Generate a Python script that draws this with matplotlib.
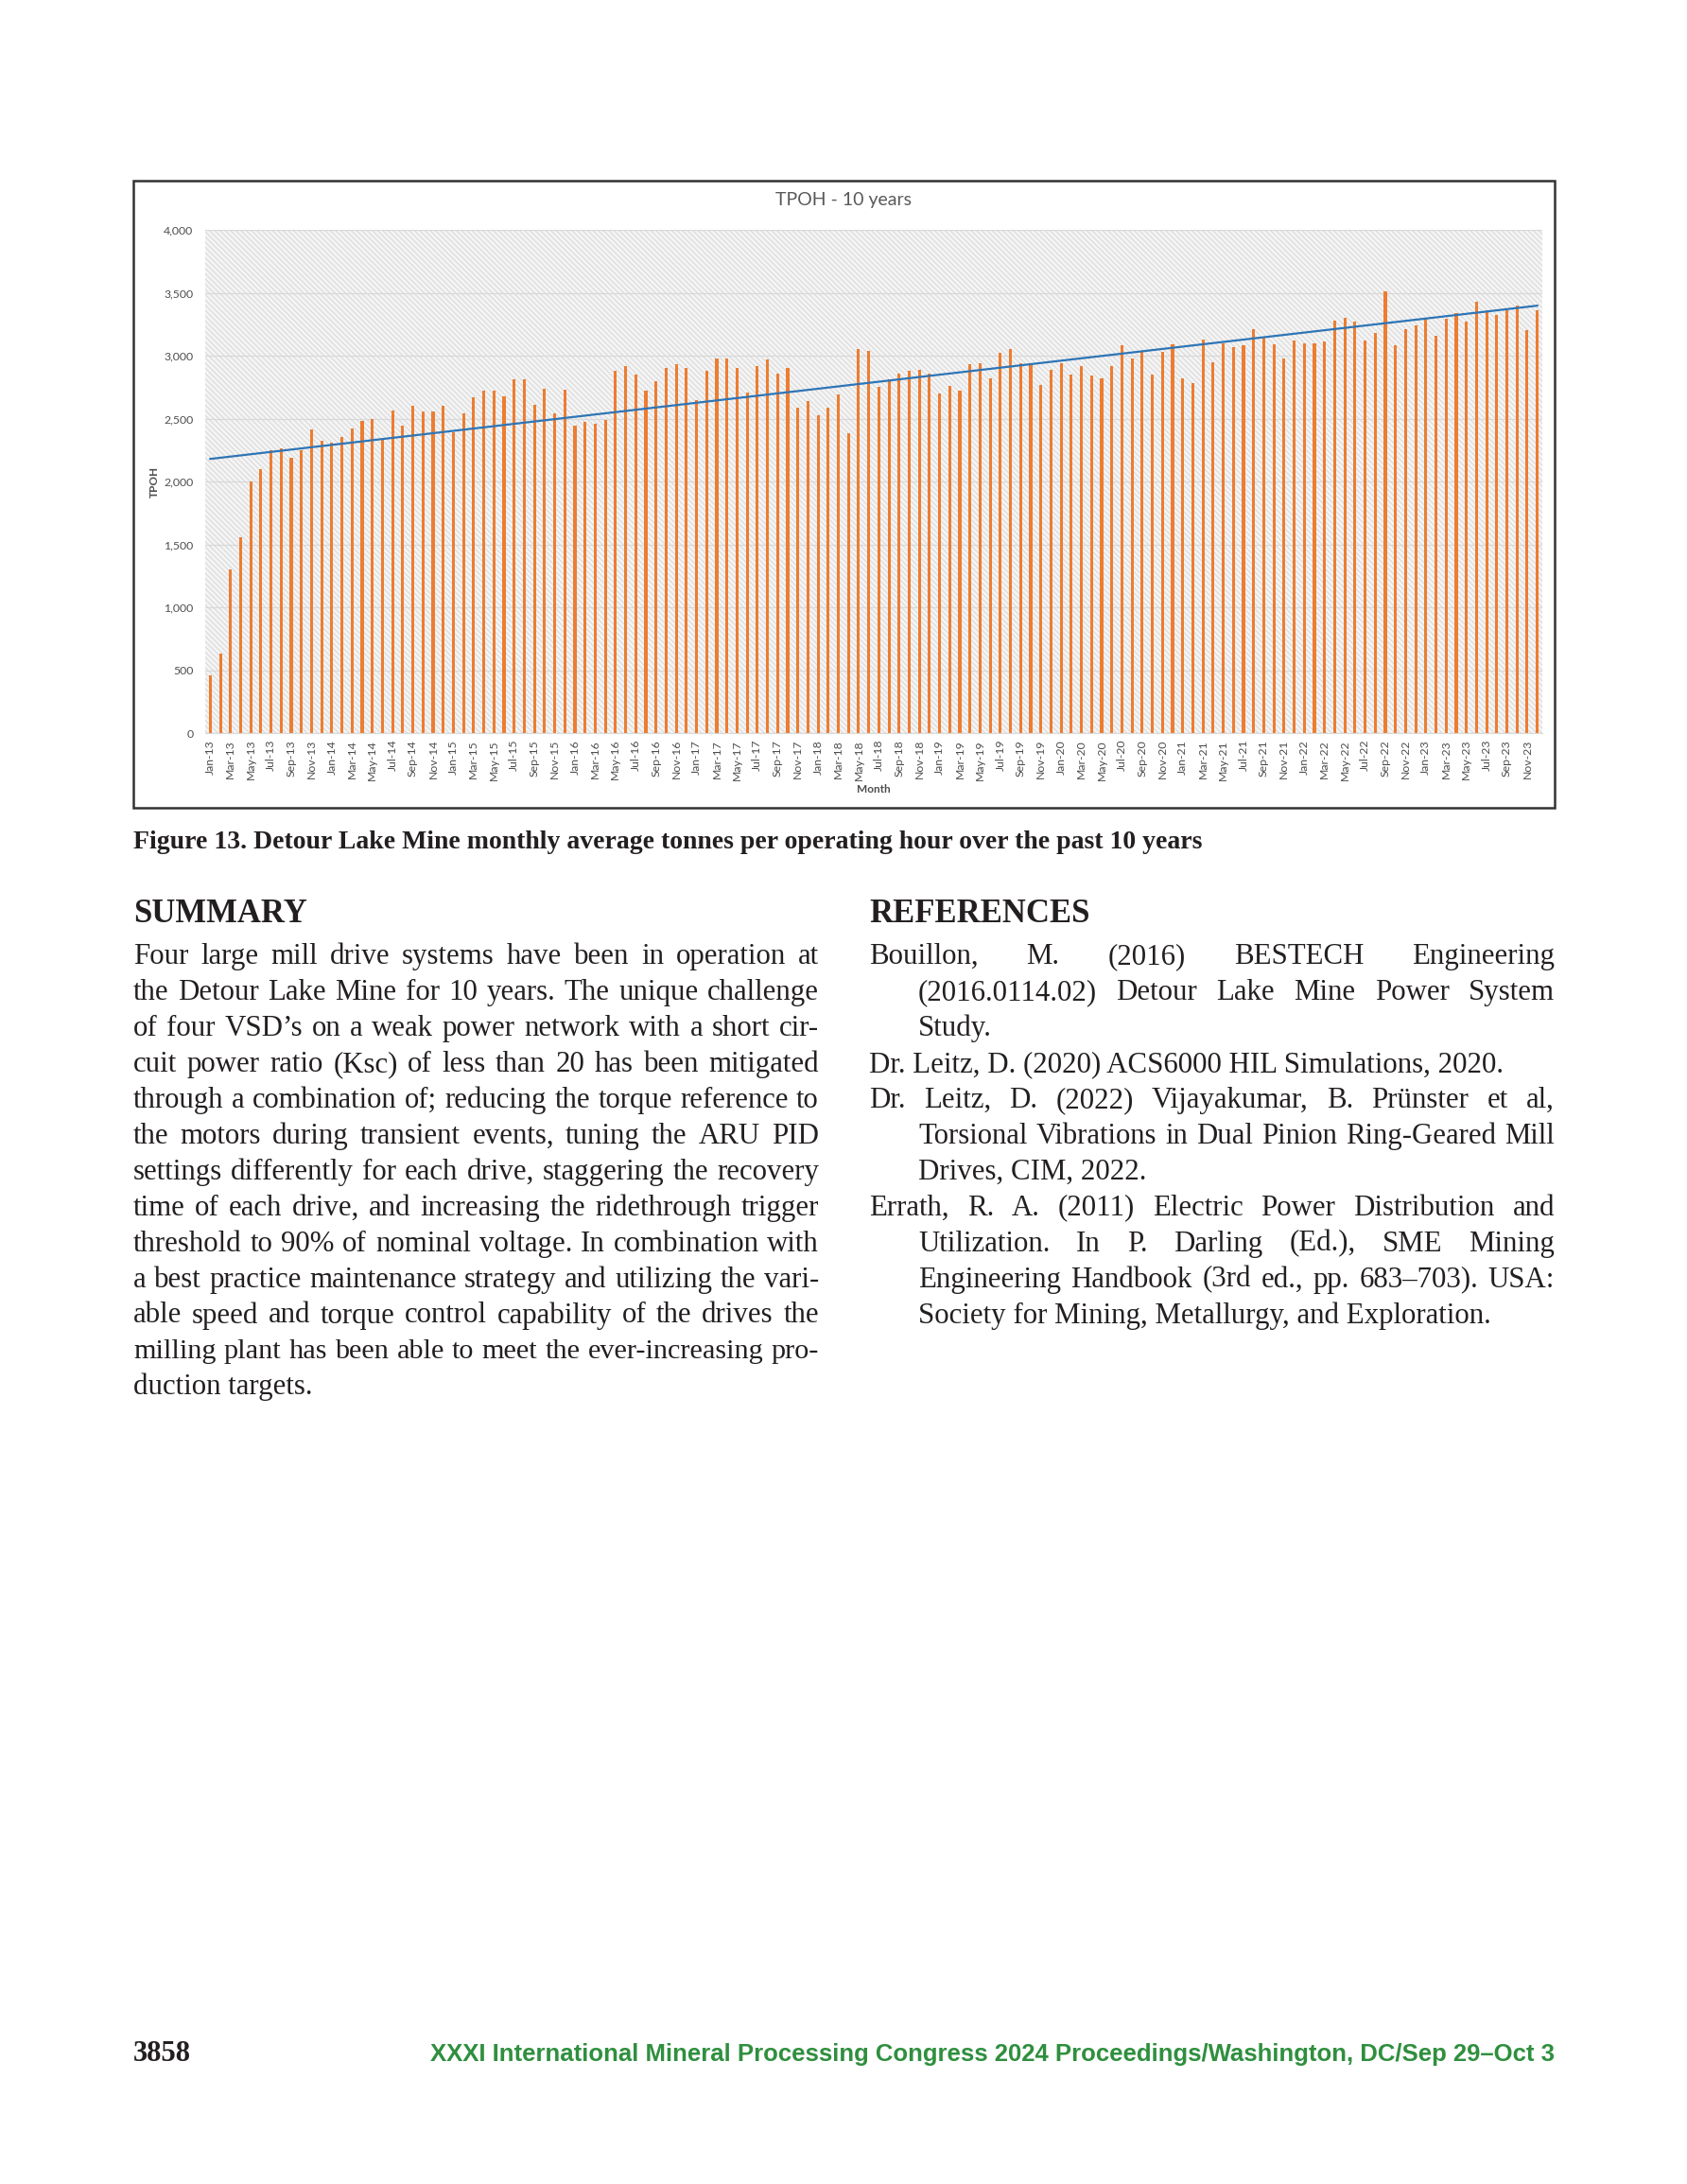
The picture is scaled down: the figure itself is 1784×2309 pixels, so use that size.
import numpy as np
import pandas as pd
import matplotlib
matplotlib.use("Agg")
import matplotlib.pyplot as plt
from matplotlib.patches import Rectangle

# monthly average tonnes per operating hour, Jan-13 .. Dec-23
tpoh = [
    460, 630, 1300, 1560, 2000, 2100, 2250, 2260, 2190, 2250, 2410, 2320,   # 2013
    2310, 2350, 2420, 2480, 2500, 2340, 2565, 2440, 2600, 2560, 2560, 2600,  # 2014
    2390, 2540, 2670, 2720, 2720, 2680, 2810, 2810, 2610, 2740, 2540, 2730,  # 2015
    2440, 2470, 2460, 2490, 2880, 2920, 2850, 2720, 2800, 2900, 2930, 2900,  # 2016
    2650, 2880, 2980, 2980, 2900, 2710, 2920, 2970, 2860, 2900, 2590, 2640,  # 2017
    2530, 2590, 2690, 2380, 3050, 3040, 2750, 2810, 2860, 2880, 2890, 2860,  # 2018
    2700, 2760, 2720, 2930, 2940, 2820, 3020, 3050, 2940, 2930, 2770, 2890,  # 2019
    2940, 2850, 2920, 2840, 2820, 2920, 3080, 2980, 3030, 2850, 3030, 3090,  # 2020
    2820, 2780, 3130, 2950, 3100, 3070, 3080, 3210, 3140, 3090, 2980, 3120,  # 2021
    3100, 3100, 3110, 3280, 3300, 3270, 3120, 3180, 3510, 3080, 3210, 3240,  # 2022
    3290, 3160, 3290, 3340, 3270, 3430, 3350, 3320, 3360, 3400, 3200, 3360,  # 2023
]
months = list(pd.date_range("2013-01-01", periods=len(tpoh), freq="MS").strftime("%b-%y"))
yticks = [0, 500, 1000, 1500, 2000, 2500, 3000, 3500, 4000]

caption = "Figure 13. Detour Lake Mine monthly average tonnes per operating hour over the past 10 years"

summary_lines = [
    "Four large mill drive systems have been in operation at",
    "the Detour Lake Mine for 10 years. The unique challenge",
    "of four VSD\u2019s on a weak power network with a short cir-",
    "cuit power ratio (Ksc) of less than 20 has been mitigated",
    "through a combination of; reducing the torque reference to",
    "the motors during transient events, tuning the ARU PID",
    "settings differently for each drive, staggering the recovery",
    "time of each drive, and increasing the ridethrough trigger",
    "threshold to 90% of nominal voltage. In combination with",
    "a best practice maintenance strategy and utilizing the vari-",
    "able speed and torque control capability of the drives the",
    "milling plant has been able to meet the ever-increasing pro-",
    "duction targets.",
]

# (text, indented, justified)
ref_lines = [
    ("Bouillon, M. (2016) BESTECH Engineering", False, True),
    ("(2016.0114.02) Detour Lake Mine Power System", True, True),
    ("Study.", True, False),
    ("Dr. Leitz, D. (2020) ACS6000 HIL Simulations, 2020.", False, False),
    ("Dr. Leitz, D. (2022) Vijayakumar, B. Pr\u00fcnster et al,", False, True),
    ("Torsional Vibrations in Dual Pinion Ring-Geared Mill", True, True),
    ("Drives, CIM, 2022.", True, False),
    ("Errath, R. A. (2011) Electric Power Distribution and", False, True),
    ("Utilization. In P. Darling (Ed.), SME Mining", True, True),
    ("Engineering Handbook (3rd ed., pp. 683\u2013703). USA:", True, True),
    ("Society for Mining, Metallurgy, and Exploration.", True, False),
]

footer = "XXXI International Mineral Processing Congress 2024 Proceedings/Washington, DC/Sep 29\u2013Oct 3"

W, H = 1784, 2309
fig = plt.figure(figsize=(W / 100, H / 100), dpi=100)
renderer = fig.canvas.get_renderer()
plt.rcParams["hatch.linewidth"] = 0.6

def fx(px):
    return px / W

def fy(py):
    return 1 - py / H

def text_width(s, **kw):
    t = fig.text(0, 0, s, **kw)
    w = t.get_window_extent(renderer).width
    t.remove()
    return w

def fit_size(s, target, **kw):
    w = text_width(s, fontsize=20, **kw)
    return 20 * target / w

serif = "Liberation Serif"
ink = "#231f20"

def put_line(s, x0, x1, y, size, justify, **kw):
    # shrink a line only when its natural width would not fit the column
    nat = text_width(s, fontsize=size, **kw)
    if nat > (x1 - x0) - 6:
        size = size * ((x1 - x0) - 6) / nat
    words = s.split(" ")
    if not justify or len(words) == 1:
        fig.text(fx(x0), fy(y), s, fontsize=size, va="baseline", **kw)
        return
    widths = [text_width(w_, fontsize=size, **kw) for w_ in words]
    gap = (x1 - x0 - sum(widths)) / (len(words) - 1)
    x = x0
    for w_, ww in zip(words, widths):
        fig.text(fx(x), fy(y), w_, fontsize=size, va="baseline", **kw)
        x += ww + gap

# ---- chart ----
fig.patches.append(Rectangle((fx(141), fy(854)), fx(1644) - fx(141), fy(191) - fy(854),
                             transform=fig.transFigure, fill=False, edgecolor="#333333",
                             linewidth=1.8, zorder=0))

ax = fig.add_axes([fx(217), fy(775), fx(1631) - fx(217), fy(243) - fy(775)])
ax.set_facecolor("white")
ax.add_patch(Rectangle((0, 0), 1, 1, transform=ax.transAxes, facecolor="#f4f4f4",
                       edgecolor="#d2d2d2", hatch="\\\\\\\\\\\\", linewidth=0, zorder=0))
x = np.arange(len(tpoh))
ax.bar(x, tpoh, width=0.29, color="#ed7d31", zorder=2)
coef = np.polyfit(x, tpoh, 1)
ax.plot(x, np.polyval(coef, x), color="#2e75b6", linewidth=1.6, zorder=3)

ax.set_xlim(-0.5, len(tpoh) - 0.5)
ax.set_ylim(0, 4000)
ax.set_yticks(yticks)
ax.set_yticklabels([f"{v:,}" for v in yticks])
ax.set_xticks(x[::2])
ax.set_xticklabels(months[::2], rotation=90)
ax.grid(axis="y", color="#d9d9d9", linewidth=0.9, zorder=1)
ax.set_axisbelow(True)
for s in ["top", "right", "left"]:
    ax.spines[s].set_visible(False)
ax.spines["bottom"].set_color("#d9d9d9")
ax.tick_params(axis="both", length=0, labelsize=8.8, labelcolor="#4d4d4d")
ax.tick_params(axis="y", pad=9)
ax.tick_params(axis="x", pad=5)
for lab in ax.get_xticklabels() + ax.get_yticklabels():
    lab.set_family("Lato")

fig.text(fx(892), fy(212), "TPOH - 10 years", ha="center", va="center", fontsize=14,
         color="#595959", family="Lato")
fig.text(fx(163), fy(509), "TPOH", ha="center", va="center", rotation=90, fontsize=8.5,
         color="#4d4d4d", family="Lato", weight="bold")
fig.text(fx(924), fy(835), "Month", ha="center", va="center", fontsize=8.5,
         color="#4d4d4d", family="Lato", weight="bold")

# ---- caption and text ----
cap_size = fit_size(caption, 1128, family=serif, weight="bold")
fig.text(fx(141), fy(897), caption, fontsize=cap_size, family=serif, weight="bold",
         color=ink, va="baseline")

head_size = fit_size("SUMMARY", 183, family=serif, weight="bold")
fig.text(fx(141), fy(975), "SUMMARY", fontsize=head_size, family=serif, weight="bold",
         color=ink, va="baseline")
fig.text(fx(919), fy(975), "REFERENCES", fontsize=head_size, family=serif, weight="bold",
         color=ink, va="baseline")

body = 22.2
base, step = 1019, 37.95
for i, s in enumerate(summary_lines):
    put_line(s, 141, 866, base + i * step, body, i < len(summary_lines) - 1,
             family=serif, color=ink)
for i, (s, ind, just) in enumerate(ref_lines):
    put_line(s, 971 if ind else 919, 1644, base + i * step, body, just,
             family=serif, color=ink)

# ---- footer ----
fig.text(fx(141), fy(2179), "3858", fontsize=fit_size("3858", 61, family=serif, weight="bold"),
         family=serif, weight="bold", color=ink, va="baseline")
fig.text(fx(1644), fy(2179), footer, ha="right", va="baseline",
         fontsize=fit_size(footer, 1190, family="Liberation Sans", weight="bold"),
         family="Liberation Sans", weight="bold", color="#2f8f3e")

fig.savefig("out.png", dpi=100)
